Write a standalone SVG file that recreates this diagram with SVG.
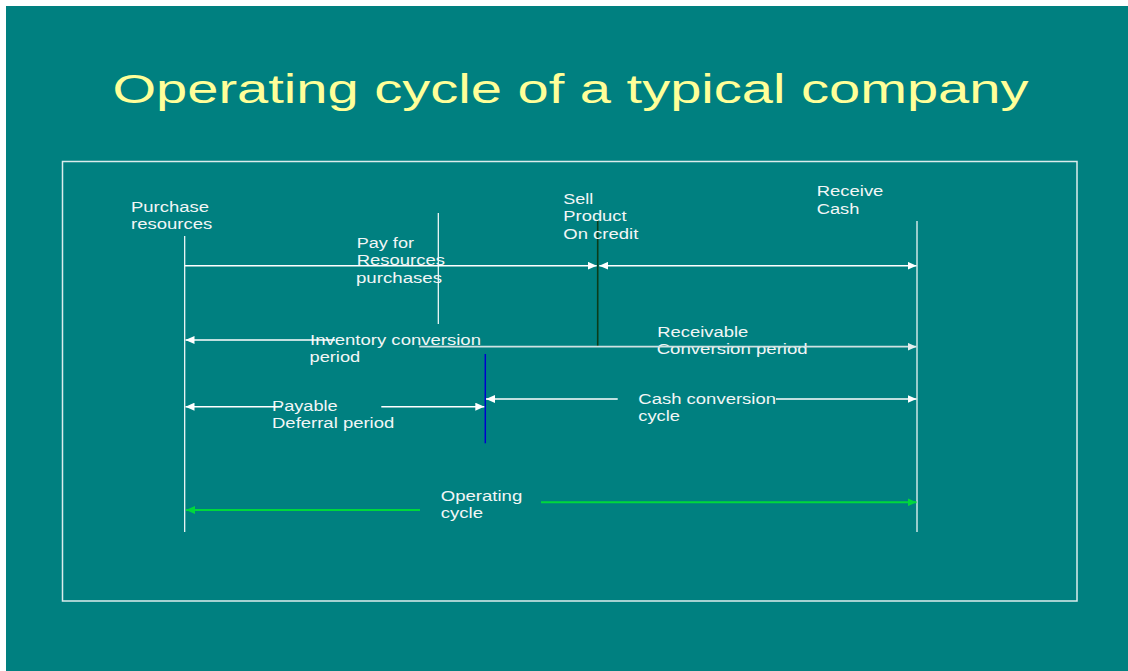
<svg xmlns="http://www.w3.org/2000/svg" width="1128" height="671" viewBox="0 0 1128 671">
  <style>
    .title { font-family: "Liberation Sans", Arial, sans-serif; font-size: 40px; fill: #ffff99; }
    .lbl { font-family: "Liberation Sans", Arial, sans-serif; font-size: 15.5px; fill: #f2f6f6; }
    .tick { stroke: #ffffff; stroke-width: 1.2; fill: none; }
    .conn { stroke: #ffffff; stroke-width: 1.4; fill: none; }
    .conn-soft { stroke: #cfe2e2; stroke-width: 1.8; fill: none; }
    .conn-green { stroke: #00d83c; stroke-width: 2; fill: none; }
  </style>
  <defs>
    <marker id="arrow" viewBox="0 0 9 8" refX="9" refY="4" markerWidth="9" markerHeight="8" markerUnits="userSpaceOnUse" orient="auto-start-reverse">
      <path d="M0,0 L9,4 L0,8 z" fill="#ffffff"/>
    </marker>
    <marker id="arrow-soft" viewBox="0 0 9 8" refX="9" refY="4" markerWidth="9" markerHeight="8" markerUnits="userSpaceOnUse" orient="auto-start-reverse">
      <path d="M0,0 L9,4 L0,8 z" fill="#e4eeee"/>
    </marker>
    <marker id="arrow-green" viewBox="0 0 9 8" refX="9" refY="4" markerWidth="9" markerHeight="8" markerUnits="userSpaceOnUse" orient="auto-start-reverse">
      <path d="M0,0 L9,4 L0,8 z" fill="#00d83c"/>
    </marker>
  </defs>

  <!-- page and slide background -->
  <rect x="0" y="0" width="1128" height="671" fill="#ffffff"/>
  <rect x="6" y="6" width="1122" height="665" fill="#008080"/>

  <text class="title" x="112.5" y="102.5" textLength="916" lengthAdjust="spacingAndGlyphs">Operating cycle of a typical company</text>

  <!-- diagram frame -->
  <rect x="62.5" y="161.5" width="1014.5" height="439.5" fill="none" stroke="#dcecec" stroke-width="1.5"/>

  <!-- event markers on the time line -->
  <g id="purchase-resources">
    <line class="tick" x1="184.7" y1="236" x2="184.7" y2="532"/>
    <text class="lbl" x="131" y="211.5" textLength="78" lengthAdjust="spacingAndGlyphs">Purchase</text>
    <text class="lbl" x="131" y="228.5" textLength="81.3" lengthAdjust="spacingAndGlyphs">resources</text>
  </g>

  <g id="pay-for-resources">
    <line class="tick" x1="438.3" y1="213" x2="438.3" y2="324"/>
    <text class="lbl" x="356.7" y="247.5" textLength="57.3" lengthAdjust="spacingAndGlyphs">Pay for</text>
    <text class="lbl" x="356.7" y="265" textLength="88.3" lengthAdjust="spacingAndGlyphs">Resources</text>
    <text class="lbl" x="356" y="282.5" textLength="86" lengthAdjust="spacingAndGlyphs">purchases</text>
  </g>

  <g id="sell-product">
    <line x1="597.7" y1="220" x2="597.7" y2="346" stroke="#0b3d1a" stroke-width="1.6"/>
    <text class="lbl" x="563.3" y="203.5" textLength="30" lengthAdjust="spacingAndGlyphs">Sell</text>
    <text class="lbl" x="563.3" y="221" textLength="63.3" lengthAdjust="spacingAndGlyphs">Product</text>
    <text class="lbl" x="563.3" y="239" textLength="75" lengthAdjust="spacingAndGlyphs">On credit</text>
  </g>

  <g id="receive-cash">
    <line class="tick" x1="917" y1="221" x2="917" y2="532"/>
    <text class="lbl" x="816.7" y="196" textLength="66.7" lengthAdjust="spacingAndGlyphs">Receive</text>
    <text class="lbl" x="816.7" y="214" textLength="42.7" lengthAdjust="spacingAndGlyphs">Cash</text>
  </g>

  <g id="payment-point">
    <line x1="485.3" y1="354" x2="485.3" y2="443.3" stroke="#0000d0" stroke-width="1.5"/>
  </g>

  <!-- period labels -->
  <g id="inventory-conversion-period">
    <text class="lbl" x="310" y="344.5" textLength="171" lengthAdjust="spacingAndGlyphs">Inventory conversion</text>
    <text class="lbl" x="309.5" y="361.5" textLength="50.7" lengthAdjust="spacingAndGlyphs">period</text>
  </g>

  <g id="receivable-conversion-period">
    <text class="lbl" x="657.3" y="337" textLength="91" lengthAdjust="spacingAndGlyphs">Receivable</text>
    <text class="lbl" x="656.7" y="354" textLength="151" lengthAdjust="spacingAndGlyphs">Conversion period</text>
  </g>

  <g id="payable-deferral-period">
    <text class="lbl" x="272" y="411" textLength="65.7" lengthAdjust="spacingAndGlyphs">Payable</text>
    <text class="lbl" x="272" y="428" textLength="122.3" lengthAdjust="spacingAndGlyphs">Deferral period</text>
  </g>

  <g id="cash-conversion-cycle">
    <text class="lbl" x="638.3" y="403.5" textLength="137.7" lengthAdjust="spacingAndGlyphs">Cash conversion</text>
    <text class="lbl" x="638.3" y="421" textLength="41.7" lengthAdjust="spacingAndGlyphs">cycle</text>
  </g>

  <g id="operating-cycle">
    <text class="lbl" x="440.7" y="500.5" textLength="81.6" lengthAdjust="spacingAndGlyphs">Operating</text>
    <text class="lbl" x="440.7" y="517.5" textLength="42.3" lengthAdjust="spacingAndGlyphs">cycle</text>
  </g>

  <!-- connectors -->
  <g id="connectors">
    <line class="conn" x1="184.7" y1="265.7" x2="596.7" y2="265.7" marker-end="url(#arrow)"/>
    <line class="conn" x1="599.3" y1="265.7" x2="916.5" y2="265.7" marker-start="url(#arrow)" marker-end="url(#arrow)"/>

    <line class="conn" x1="335" y1="340" x2="185.5" y2="340" marker-end="url(#arrow)"/>
    <line class="conn-soft" x1="419.3" y1="346.7" x2="916.5" y2="346.7" marker-end="url(#arrow-soft)"/>

    <line class="conn" x1="282" y1="406.7" x2="185.5" y2="406.7" marker-end="url(#arrow)"/>
    <line class="conn" x1="381.3" y1="406.7" x2="484.3" y2="406.7" marker-end="url(#arrow)"/>

    <line class="conn" x1="617.7" y1="399" x2="486" y2="399" marker-end="url(#arrow)"/>
    <line class="conn" x1="776" y1="399" x2="916.5" y2="399" marker-end="url(#arrow)"/>

    <line class="conn-green" x1="420" y1="510" x2="186" y2="510" marker-end="url(#arrow-green)"/>
    <line class="conn-green" x1="541" y1="502.3" x2="916.5" y2="502.3" marker-end="url(#arrow-green)"/>
  </g>
</svg>
